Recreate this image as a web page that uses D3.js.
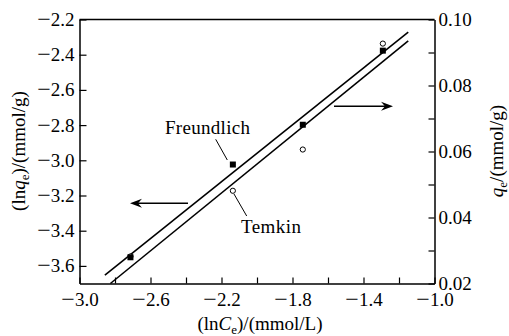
<!DOCTYPE html>
<html>
<head>
<meta charset="utf-8">
<script src="https://cdn.jsdelivr.net/npm/d3@7"></script>
<style>
  body { margin: 0; background: #fff; }
  svg { display: block; }
</style>
</head>
<body>
<svg id="chart" width="509" height="336"></svg>
<script>
// ---- data ----
const lnCe = [-2.713, -2.136, -1.742, -1.291];
const lnQeFreundlich = [-3.551, -3.024, -2.798, -2.377];
const qeTemkin = [0.0282, 0.0481, 0.0606, 0.0927];
// fitted lines: [lnCe, value] endpoints
const freundlichFit = [[-2.857, -3.652], [-1.148, -2.272]];
const temkinFit = [[-2.826, 0.0200], [-1.148, 0.0935]];
const xTicks = [-3.0, -2.8, -2.6, -2.4, -2.2, -2.0, -1.8, -1.6, -1.4, -1.2, -1.0];
const xTickLabels = [-3.0, -2.6, -2.2, -1.8, -1.4, -1.0];
const yLeftTicks = [-3.6, -3.4, -3.2, -3.0, -2.8, -2.6, -2.4, -2.2];
const yRightTicks = [0.02, 0.03, 0.04, 0.05, 0.06, 0.07, 0.08, 0.09, 0.10];
const yRightTickLabels = [0.02, 0.04, 0.06, 0.08, 0.10];

// ---- layout ----
const L = 79.5, R = 434.5, T = 19.5, B = 283.5;
const FS = 19;
const FONT = "Liberation Serif";
const svg = d3.select("#chart");

const x = d3.scaleLinear().domain([-3.0, -1.0]).range([L, R]);
const yL = d3.scaleLinear().domain([-3.7, -2.2]).range([B, T]);
const yR = d3.scaleLinear().domain([0.02, 0.10]).range([B, T]);

const has = (arr, v) => arr.some(a => Math.abs(a - v) < 1e-9);
const fmt1 = d => d3.format(".1f")(d).replace("-", "\u2212");
const fmt2 = d => d3.format(".2f")(d);

function styleAxis(g) {
  g.attr("font-size", FS).attr("font-family", FONT);
  g.selectAll("path.domain").attr("stroke", "#000").attr("stroke-width", 1.5);
  g.selectAll(".tick line").attr("stroke", "#000").attr("stroke-width", 1.2);
  g.selectAll(".tick text").attr("fill", "#000").attr("font-family", FONT)
    .each(function () {
      const t = d3.select(this), s = t.text();
      if (s.startsWith("\u2212")) {
        t.text(null);
        t.append("tspan").attr("font-size", 24).attr("baseline-shift", "-1.3px").text("\u2212");
        t.append("tspan").text(s.slice(1));
      }
    });
}

// bottom axis
svg.append("g").attr("transform", `translate(0,${B})`)
  .call(d3.axisBottom(x).tickValues(xTicks).tickSizeInner(-6).tickSizeOuter(0).tickPadding(9.5)
    .tickFormat(d => has(xTickLabels, d) ? fmt1(d) : ""))
  .call(styleAxis);

// left axis
svg.append("g").attr("transform", `translate(${L},0)`)
  .call(d3.axisLeft(yL).tickValues(yLeftTicks).tickSizeInner(-7).tickSizeOuter(0).tickPadding(5)
    .tickFormat(fmt1))
  .call(styleAxis);

// right axis
svg.append("g").attr("transform", `translate(${R},0)`)
  .call(d3.axisRight(yR).tickValues(yRightTicks).tickSizeInner(-6).tickSizeOuter(0).tickPadding(4)
    .tickFormat(d => has(yRightTickLabels, d) ? fmt2(d) : ""))
  .call(styleAxis);

// top border
svg.append("line").attr("x1", L).attr("x2", R).attr("y1", T).attr("y2", T)
  .attr("stroke", "#000").attr("stroke-width", 1.5);

// fit lines
svg.append("line")
  .attr("x1", x(freundlichFit[0][0])).attr("y1", yL(freundlichFit[0][1]))
  .attr("x2", x(freundlichFit[1][0])).attr("y2", yL(freundlichFit[1][1]))
  .attr("stroke", "#000").attr("stroke-width", 1.6);
svg.append("line")
  .attr("x1", x(temkinFit[0][0])).attr("y1", yR(temkinFit[0][1]))
  .attr("x2", x(temkinFit[1][0])).attr("y2", yR(temkinFit[1][1]))
  .attr("stroke", "#000").attr("stroke-width", 1.6);

// Temkin circles
svg.selectAll("circle.t").data(lnCe).enter().append("circle")
  .attr("cx", d => x(d)).attr("cy", (d, i) => yR(qeTemkin[i])).attr("r", 2.6)
  .attr("fill", "#fff").attr("stroke", "#000").attr("stroke-width", 1);

// Freundlich squares
svg.selectAll("rect.f").data(lnCe).enter().append("rect")
  .attr("x", d => x(d) - 3).attr("y", (d, i) => yL(lnQeFreundlich[i]) - 3)
  .attr("width", 6).attr("height", 6).attr("fill", "#000");

function txt(xx, yy) {
  return svg.append("text").attr("x", xx).attr("y", yy)
    .attr("font-family", FONT).attr("font-size", FS).attr("fill", "#000");
}

// annotations
txt(165, 133.5).attr("textLength", 85).text("Freundlich");
svg.append("line").attr("x1", 215.7).attr("y1", 139.3).attr("x2", 227.3).attr("y2", 160)
  .attr("stroke", "#000").attr("stroke-width", 1);
txt(241, 232.5).attr("textLength", 60).text("Temkin");
svg.append("line").attr("x1", 234).attr("y1", 194).attr("x2", 246.7).attr("y2", 216)
  .attr("stroke", "#000").attr("stroke-width", 1);

// arrows
function arrow(x1, x2, yy) {
  const dir = Math.sign(x2 - x1);
  svg.append("line").attr("x1", x1).attr("x2", x2 - dir * 6).attr("y1", yy).attr("y2", yy)
    .attr("stroke", "#000").attr("stroke-width", 1.5);
  const hl = 12, hw = 4.5, notch = 4;
  svg.append("path")
    .attr("d", `M${x2},${yy} L${x2 - dir * hl},${yy - hw} L${x2 - dir * (hl - notch)},${yy} L${x2 - dir * hl},${yy + hw} Z`)
    .attr("fill", "#000");
}
arrow(188, 130, 203.3);
arrow(334, 393, 106.3);

// axis titles
const xt = txt(260, 330).attr("text-anchor", "middle");
xt.append("tspan").text("(ln");
xt.append("tspan").attr("font-style", "italic").text("C");
xt.append("tspan").attr("dy", 4).attr("font-size", 13).text("e");
xt.append("tspan").attr("dy", -4).text(")/(mmol/L)");

const lt = txt(0, 0).attr("transform", `translate(25,151) rotate(-90)`).attr("text-anchor", "middle");
lt.append("tspan").text("(ln");
lt.append("tspan").attr("font-style", "italic").text("q");
lt.append("tspan").attr("dy", 4).attr("font-size", 13).text("e");
lt.append("tspan").attr("dy", -4).text(")/(mmol/g)");

const rt = txt(0, 0).attr("transform", `translate(503,151) rotate(-90)`).attr("text-anchor", "middle");
rt.append("tspan").attr("font-style", "italic").text("q");
rt.append("tspan").attr("dy", 4).attr("font-size", 13).text("e");
rt.append("tspan").attr("dy", -4).text("/(mmol/g)");
</script>
</body>
</html>
